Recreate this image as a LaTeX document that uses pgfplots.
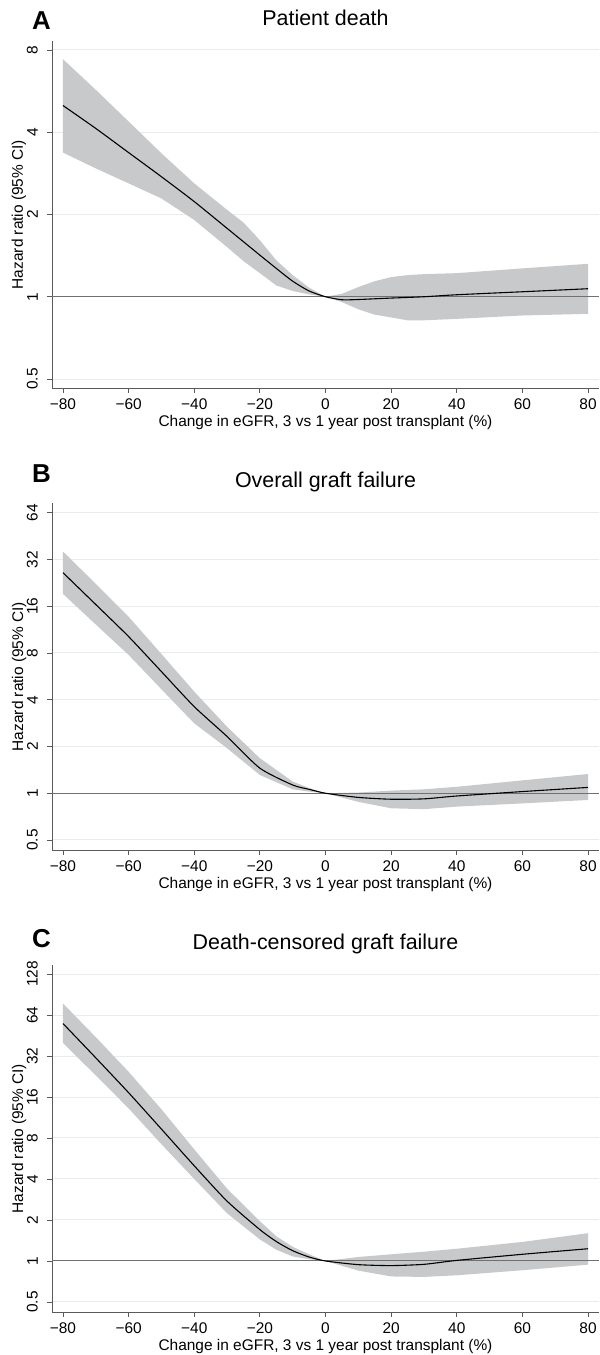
\documentclass[border=0pt]{standalone}
\usepackage{fontspec}
\setmainfont{Liberation Sans}
\usepackage{pgfplots}
\usepackage{pgfplotstable}
\pgfplotsset{compat=1.18}
\definecolor{band}{HTML}{C8C9CB}
\definecolor{axgray}{HTML}{5A5A5A}
\definecolor{gridgray}{HTML}{EBEBEB}
\definecolor{refgray}{HTML}{707070}

% Panel A: estimate and 95% CI band (upper forward, lower backward)
\pgfplotstableread{
x est
-80 5.01
-70 4.13
-60 3.37
-50 2.75
-40 2.23
-30 1.78
-25 1.59
-20 1.42
-15 1.27
-10 1.14
-5 1.05
0 1.00
5 0.975
10 0.977
15 0.983
20 0.989
30 1.000
40 1.017
60 1.043
80 1.07
}\estA
\pgfplotstableread{
x y
-80 7.40
-70 5.72
-60 4.38
-50 3.35
-40 2.60
-30 2.08
-25 1.87
-20 1.61
-15 1.36
-10 1.20
-5 1.08
0 1.00
5 1.025
10 1.085
15 1.14
20 1.18
25 1.20
30 1.21
40 1.22
60 1.27
80 1.32
80 0.866
60 0.854
40 0.83
30 0.82
25 0.82
20 0.84
15 0.86
10 0.90
5 0.956
0 1.00
-5 1.02
-10 1.05
-15 1.10
-20 1.22
-25 1.35
-30 1.52
-40 1.91
-50 2.29
-60 2.60
-70 2.95
-80 3.37
}\bandA

% Panel B
\pgfplotstableread{
x est
-80 26.3
-70 16.4
-60 10.2
-50 6.07
-40 3.61
-30 2.32
-20 1.45
-10 1.13
-5 1.06
0 1.00
10 0.94
20 0.915
30 0.92
40 0.96
60 1.025
80 1.09
}\estB
\pgfplotstableread{
x y
-80 36.0
-70 22.3
-60 13.7
-50 7.88
-40 4.51
-30 2.68
-20 1.68
-10 1.19
-5 1.08
0 1.00
10 1.01
20 1.04
30 1.06
40 1.10
60 1.21
80 1.33
80 0.905
60 0.86
40 0.82
30 0.79
20 0.80
10 0.88
0 1.00
-5 1.025
-10 1.06
-20 1.31
-30 1.95
-40 2.82
-50 4.67
-60 7.77
-70 12.2
-80 19.2
}\bandB

% Panel C
\pgfplotstableread{
x est
-80 55.4
-70 31.0
-60 17.2
-50 9.3
-40 5.0
-30 2.75
-20 1.70
-15 1.39
-10 1.19
-5 1.07
0 1.00
10 0.94
20 0.925
30 0.945
40 1.01
60 1.12
80 1.23
}\estC
\pgfplotstableread{
x y
-80 77.7
-70 44.0
-60 24.5
-50 13.0
-40 6.6
-30 3.4
-20 1.96
-15 1.52
-10 1.27
-5 1.12
0 1.00
10 1.07
20 1.12
30 1.17
40 1.23
60 1.38
80 1.60
80 0.94
60 0.855
40 0.785
30 0.764
20 0.77
10 0.85
0 1.00
-5 1.03
-10 1.08
-15 1.21
-20 1.44
-30 2.24
-40 4.0
-50 7.2
-60 13.2
-70 23.0
-80 40.0
}\bandC

\newcommand{\lbl}{\fontsize{15.5}{18}\selectfont}

\pgfplotsset{
  every axis/.append style={
    width=547bp, height=347bp, scale only axis,
    xmin=-83.35, xmax=83.35,
    xtick={-80,-60,-40,-20,0,20,40,60,80},
    xticklabels={−80,−60,−40,−20,0,20,40,60,80},
    axis x line*=bottom, axis y line*=left,
    axis line style={color=axgray, line width=0.9bp},
    tick align=outside, major tick length=5bp,
    tick style={color=axgray, line width=0.9bp},
    minor tick num=0,
    ymajorgrids, major grid style={color=gridgray, line width=1bp},
    yticklabel style={xshift=-9bp, rotate=90, anchor=south, inner sep=0pt, font=\lbl},
    xticklabel style={anchor=base, inner sep=0pt, font=\lbl, yshift=-16bp},
    xlabel style={at={(axis description cs:0.5,0)}, anchor=base, yshift=-38bp, inner sep=0pt, font=\lbl},
    ylabel style={at={([xshift=-29bp]axis description cs:0,0.5)}, anchor=base, inner sep=0pt, font=\lbl},
    title style={at={(axis description cs:0.5,1)}, anchor=base, yshift=9.5bp, inner sep=0pt, font=\fontsize{21.5}{25}\selectfont},
  },
}

\begin{document}
\begin{tikzpicture}
\path[use as bounding box] (0,0) rectangle (600bp,-1355bp);

% Panel A
\begin{axis}[ymode=log, log basis y=2, anchor=south west, at={(52bp,-388bp)},
  ymin=0.4635, ymax=8.63,
  ytick={0.5,1,2,4,8}, yticklabels={0.5,1,2,4,8},
  title={Patient death},
  xlabel={Change in eGFR, 3 vs 1 year post transplant (\%)},
  ylabel={Hazard ratio (95\% CI)}]
\addplot[fill=band, draw=none] table[x=x, y=y] {\bandA} -- cycle;
\addplot[refgray, line width=1bp] coordinates {(-83.35,1) (83.35,1)};
\addplot[black, line width=1.1bp, smooth, tension=0.4] table[x=x, y=est] {\estA};
\end{axis}

% Panel B
\begin{axis}[ymode=log, log basis y=2, anchor=south west, at={(52bp,-850bp)},
  ymin=0.431, ymax=73.9,
  ytick={0.5,1,2,4,8,16,32,64}, yticklabels={0.5,1,2,4,8,16,32,64},
  title={Overall graft failure},
  xlabel={Change in eGFR, 3 vs 1 year post transplant (\%)},
  ylabel={Hazard ratio (95\% CI)}]
\addplot[fill=band, draw=none] table[x=x, y=y] {\bandB} -- cycle;
\addplot[refgray, line width=1bp] coordinates {(-83.35,1) (83.35,1)};
\addplot[black, line width=1.1bp, smooth, tension=0.4] table[x=x, y=est] {\estB};
\end{axis}

% Panel C
\begin{axis}[ymode=log, log basis y=2, anchor=south west, at={(52bp,-1312bp)},
  ymin=0.422, ymax=149,
  ytick={0.5,1,2,4,8,16,32,64,128}, yticklabels={0.5,1,2,4,8,16,32,64,128},
  title={Death-censored graft failure},
  xlabel={Change in eGFR, 3 vs 1 year post transplant (\%)},
  ylabel={Hazard ratio (95\% CI)}]
\addplot[fill=band, draw=none] table[x=x, y=y] {\bandC} -- cycle;
\addplot[refgray, line width=1bp] coordinates {(-83.35,1) (83.35,1)};
\addplot[black, line width=1.1bp, smooth, tension=0.4] table[x=x, y=est] {\estC};
\end{axis}

\node[anchor=base west, inner sep=0pt, font=\fontsize{26}{30}\selectfont\bfseries] at (32bp,-29bp) {A};
\node[anchor=base west, inner sep=0pt, font=\fontsize{26}{30}\selectfont\bfseries] at (32bp,-482bp) {B};
\node[anchor=base west, inner sep=0pt, font=\fontsize{26}{30}\selectfont\bfseries] at (32bp,-947bp) {C};
\end{tikzpicture}
\end{document}
